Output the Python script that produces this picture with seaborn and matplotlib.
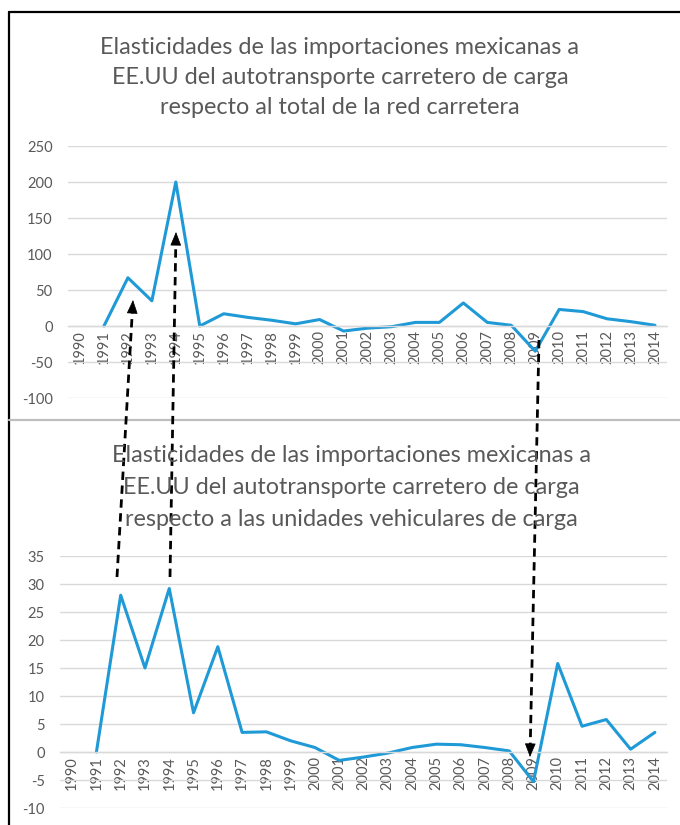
import matplotlib
matplotlib.use("Agg")
import matplotlib.pyplot as plt
import seaborn as sns
import pandas as pd
import numpy as np
from matplotlib.lines import Line2D
from matplotlib.patches import FancyArrowPatch

# ---------------- data ----------------
years = list(range(1990, 2015))
red_total = [np.nan, 0, 67, 35, 200, 0, 17, 12, 8, 3, 9, -7, -3, -1, 5, 5,
             32, 5, 1, -35, 23, 20, 10, 6, 1]
unidades = [np.nan, 0, 28, 15, 29.2, 7, 18.8, 3.5, 3.6, 2, 0.8, -1.5, -0.9,
            -0.2, 0.8, 1.4, 1.3, 0.8, 0.2, -5.3, 15.8, 4.6, 5.8, 0.5, 3.5]
top_yticks = [-100, -50, 0, 50, 100, 150, 200, 250]
bot_yticks = [-10, -5, 0, 5, 10, 15, 20, 25, 30, 35]
title_top = ["Elasticidades de las importaciones mexicanas a",
             "EE.UU del autotransporte carretero de carga",
             "respecto al total de la red carretera"]
title_bot = ["Elasticidades de las importaciones mexicanas a",
             "EE.UU del autotransporte carretero de carga",
             "respecto a las unidades vehiculares de carga"]

df_top = pd.DataFrame({"year": years, "value": red_total})
df_bot = pd.DataFrame({"year": years, "value": unidades})

# ---------------- style ----------------
sns.set_style("white")
plt.rcParams["font.family"] = ["Lato", "DejaVu Sans"]

W, H = 680, 825
fig = plt.figure(figsize=(W / 100, H / 100), dpi=100)
fig.patch.set_facecolor("white")

LINE = "#1F9AD6"
GRID = "#D9D9D9"
TXT = "#595959"


def fx(px):
    return px / W


def fy(py):
    return 1 - py / H


def style_axis(ax, yticks):
    ax.set_xlim(1989.5, 2014.5)
    ax.set_ylim(yticks[0], yticks[-1])
    ax.set_yticks(yticks)
    ax.set_yticklabels([str(t) for t in yticks])
    ax.set_xticks(years)
    ax.set_xticklabels([str(y) for y in years])
    for s in ["top", "right", "left"]:
        ax.spines[s].set_visible(False)
    ax.spines["bottom"].set_position(("data", 0))
    ax.spines["bottom"].set_color(GRID)
    ax.spines["bottom"].set_linewidth(1)
    ax.grid(axis="y", color=GRID, linewidth=1)
    ax.grid(axis="x", visible=False)
    ax.set_axisbelow(True)
    ax.tick_params(axis="both", length=0, labelsize=10.5, labelcolor=TXT)
    ax.tick_params(axis="y", pad=11)
    ax.tick_params(axis="x", pad=3, labelrotation=90)
    ax.set_xlabel("")
    ax.set_ylabel("")
    ax.set_facecolor("none")


ax1 = fig.add_axes([fx(68), fy(398), fx(667) - fx(68), fy(146) - fy(398)])
sns.lineplot(data=df_top, x="year", y="value", ax=ax1, color=LINE, linewidth=2.2)
style_axis(ax1, top_yticks)

ax2 = fig.add_axes([fx(60), fy(808), fx(667) - fx(60), fy(556) - fy(808)])
sns.lineplot(data=df_bot, x="year", y="value", ax=ax2, color=LINE, linewidth=2.2)
style_axis(ax2, bot_yticks)

# ---------------- titles ----------------
for txt, py in zip(title_top, [47, 78, 108]):
    fig.text(fx(340), fy(py), txt, ha="center", va="center", fontsize=16.8, color=TXT)
for txt, py in zip(title_bot, [455, 488, 520]):
    fig.text(fx(351), fy(py), txt, ha="center", va="center", fontsize=16.8, color=TXT)

# ---------------- frame and separator ----------------
fig.add_artist(Line2D([fx(9), fx(680)], [fy(12), fy(12)], transform=fig.transFigure,
                      color="black", linewidth=1.6))
fig.add_artist(Line2D([fx(9), fx(9)], [fy(12), fy(825)], transform=fig.transFigure,
                      color="black", linewidth=1.6))
fig.add_artist(Line2D([fx(9), fx(680)], [fy(420), fy(420)], transform=fig.transFigure,
                      color="#BFBFBF", linewidth=1.6))

# ---------------- dashed arrows ----------------
arrows = [((117, 577), (133, 300)), ((170, 577), (176, 232)), ((539, 340), (530, 757))]
for (sx, sy), (tx, ty) in arrows:
    d = np.array([tx - sx, ty - sy], dtype=float)
    d /= np.hypot(*d)
    hx, hy = tx - d[0] * 12, ty - d[1] * 12
    fig.add_artist(Line2D([fx(sx), fx(hx)], [fy(sy), fy(hy)], transform=fig.transFigure,
                          color="black", linewidth=2.0, linestyle=(0, (3, 2.0))))
    fig.add_artist(FancyArrowPatch((fx(hx), fy(hy)), (fx(tx), fy(ty)),
                                   transform=fig.transFigure,
                                   arrowstyle="-|>,head_length=5.5,head_width=2.2",
                                   color="black", linewidth=0.5,
                                   shrinkA=0, shrinkB=0, mutation_scale=1.6))

fig.savefig("out.png", dpi=100)
